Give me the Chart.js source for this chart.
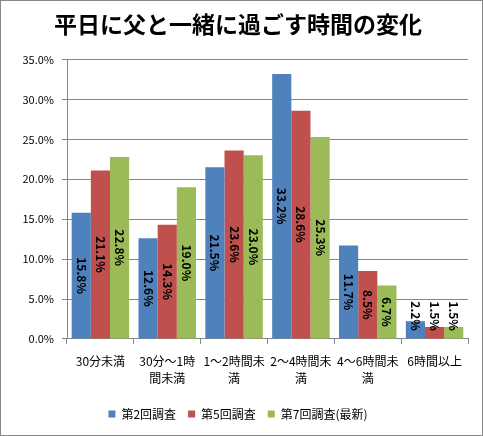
<!DOCTYPE html>
<html lang="ja">
<head>
<meta charset="UTF-8">
<title>平日に父と一緒に過ごす時間の変化</title>
<script src="https://cdn.jsdelivr.net/npm/chart.js"></script>
<style>
  html, body { margin: 0; padding: 0; background: #fff; }
  #wrap { width: 483px; height: 436px; }
</style>
</head>
<body>
<div id="wrap"><canvas id="chart" width="483" height="436"></canvas></div>
<script>
// データ
const categories = [
  '30分未満',
  ['30分〜1時', '間未満'],
  ['1〜2時間未', '満'],
  ['2〜4時間未', '満'],
  ['4〜6時間未', '満'],
  '6時間以上'
];
const seriesNames = ['第2回調査', '第5回調査', '第7回調査(最新)'];
const survey2 = [15.8, 12.6, 21.5, 33.2, 11.7, 2.2];
const survey5 = [21.1, 14.3, 23.6, 28.6, 8.5, 1.5];
const survey7 = [22.8, 19.0, 23.0, 25.3, 6.7, 1.5];
const yTicks = [0, 5, 10, 15, 20, 25, 30, 35];

const FONT = "'Noto Sans CJK JP', 'Noto Sans', sans-serif";
const GRID = '#868686';

// 外枠
const framePlugin = {
  id: 'frame',
  beforeDraw(chart) {
    const c = chart.ctx;
    c.save();
    c.fillStyle = '#fff';
    c.fillRect(0, 0, chart.width, chart.height);
    c.strokeStyle = '#888';
    c.lineWidth = 1;
    c.strokeRect(0.5, 0.5, chart.width - 1, chart.height - 1);
    c.restore();
  }
};

// 縦書き（90度回転）のデータラベル
const labelPlugin = {
  id: 'barLabels',
  afterDatasetsDraw(chart) {
    const c = chart.ctx;
    const bottom = chart.chartArea.bottom;
    c.save();
    c.font = "bold 12px " + FONT;
    c.fillStyle = '#000';
    c.textAlign = 'center';
    c.textBaseline = 'middle';
    chart.data.datasets.forEach((ds, i) => {
      chart.getDatasetMeta(i).data.forEach((bar, j) => {
        const txt = ds.data[j].toFixed(1) + '%';
        const w = c.measureText(txt).width;
        let cy = (bar.y + bar.base) / 2;
        cy = Math.min(cy, bottom - 8 - w / 2);
        c.save();
        c.translate(bar.x, cy);
        c.rotate(Math.PI / 2);
        c.fillText(txt, 0, 0);
        c.restore();
      });
    });
    c.restore();
  }
};

const ctx = document.getElementById('chart').getContext('2d');
const chart = new Chart(ctx, {
  type: 'bar',
  data: {
    labels: categories,
    datasets: [
      { label: seriesNames[0], data: survey2, backgroundColor: '#4F81BD' },
      { label: seriesNames[1], data: survey5, backgroundColor: '#C0504D' },
      { label: seriesNames[2], data: survey7, backgroundColor: '#9BBB59' }
    ]
  },
  options: {
    responsive: false,
    animation: false,
    devicePixelRatio: 1,
    categoryPercentage: 0.86,
    barPercentage: 1.0,
    layout: { padding: { left: 8, right: 15, top: 8, bottom: 6 } },
    scales: {
      x: {
        grid: { drawOnChartArea: false, color: GRID, tickLength: 5 },
        border: { color: GRID },
        ticks: {
          color: '#000',
          font: { family: FONT, size: 12, lineHeight: 1.42 },
          maxRotation: 0,
          autoSkip: false,
          padding: 9
        }
      },
      y: {
        min: 0,
        max: 35,
        afterBuildTicks(scale) {
          scale.ticks = yTicks.map(v => ({ value: v }));
        },
        afterFit(scale) { scale.width = 59; },
        grid: { color: GRID, tickLength: 5 },
        border: { color: GRID },
        ticks: {
          color: '#000',
          font: { family: FONT, size: 11 },
          padding: 8,
          callback: v => v.toFixed(1) + '%'
        }
      }
    },
    plugins: {
      title: {
        display: true,
        text: '平日に父と一緒に過ごす時間の変化',
        color: '#000',
        font: { family: FONT, size: 23, weight: 'bold' },
        padding: { top: 2, bottom: 22 }
      },
      legend: {
        position: 'bottom',
        labels: {
          color: '#000',
          font: { family: FONT, size: 12 },
          boxWidth: 7,
          boxHeight: 7,
          padding: 12
        }
      },
      tooltip: { enabled: false }
    }
  },
  plugins: [framePlugin, labelPlugin]
});
</script>
</body>
</html>
